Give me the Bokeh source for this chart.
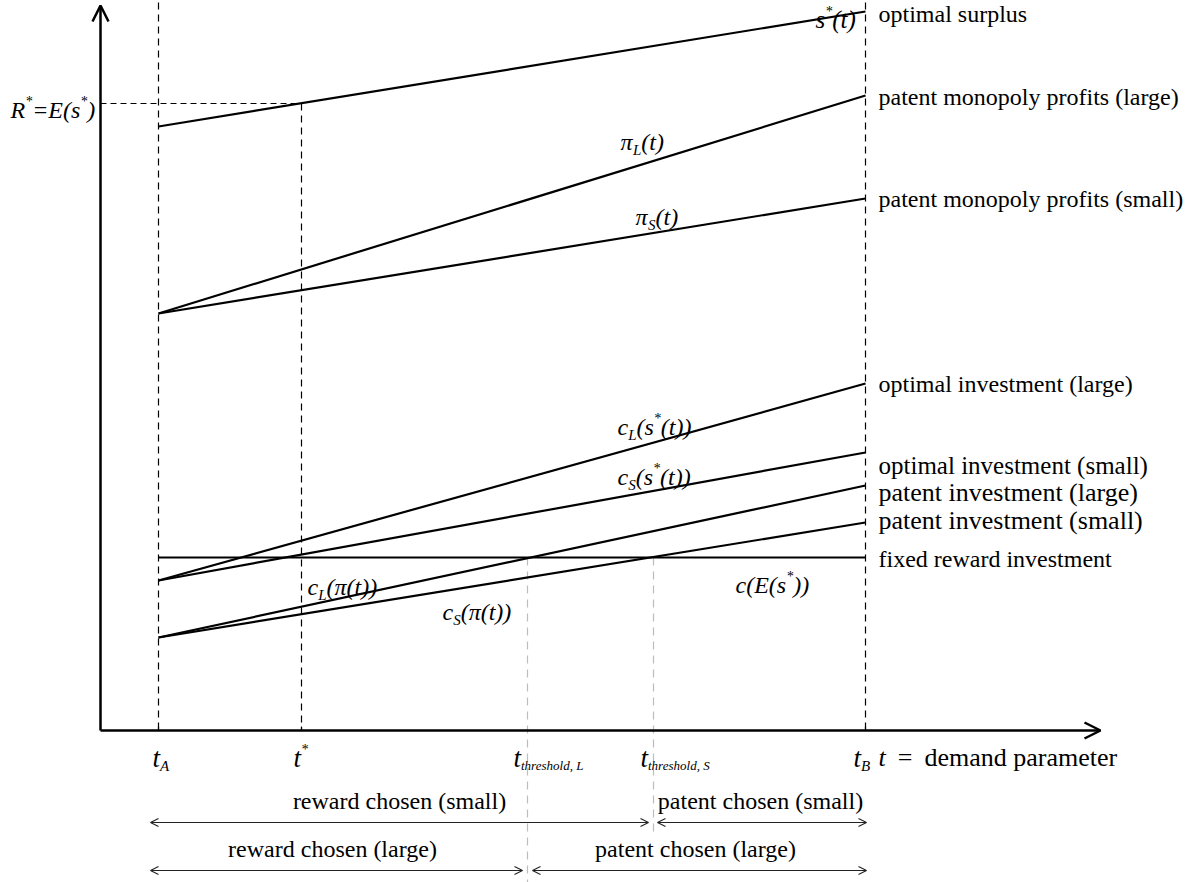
from bokeh.plotting import figure
from bokeh.models import Range1d, Arrow, OpenHead, ColumnDataSource
from bokeh.core.properties import value, field
from bokeh.embed import file_html
from bokeh.resources import INLINE

# ---------------- data ----------------
# demand-parameter positions on the horizontal axis
t_names = ["t_A", "t_star", "t_threshold_L", "t_threshold_S", "t_B"]
t_values = [0.58, 2.01, 4.27, 5.53, 7.65]

# the eight straight schedules, value at t_A and at t_B
curve_keys = ["s_star", "pi_L", "pi_S", "cL_s", "cS_s", "cL_pi", "cS_pi", "c_fixed"]
value_at_tA = [6.04, 4.17, 4.17, 1.50, 1.50, 0.93, 0.93, 1.73]
value_at_tB = [7.19, 6.35, 5.32, 3.47, 2.78, 2.45, 2.08, 1.73]
right_labels = ["optimal surplus", "patent monopoly profits (large)",
                "patent monopoly profits (small)", "optimal investment (large)",
                "optimal investment (small)", "patent investment (large)",
                "patent investment (small)", "fixed reward investment"]
R_star = 6.27

region_labels = ["reward chosen (small)", "patent chosen (small)",
                 "reward chosen (large)", "patent chosen (large)"]

# ---------------- layout (positions / styles only) ----------------
right_label_y = [7.17, 6.34, 5.32, 3.47, 2.65, 2.38, 2.10, 1.72]
right_label_size = ["24px", "24px", "24px", "24px", "25px", "26px", "26px", "24px"]
T_A, T_STAR, T_THL, T_THS, T_B = t_values

FONT = "Liberation Serif"
BASE = 24

p = figure(width=1188, height=882, x_range=Range1d(-1.00, 10.88),
           y_range=Range1d(-1.52, 7.30), x_axis_type=None, y_axis_type=None,
           output_backend="svg", toolbar_location=None, min_border=0)
p.grid.visible = False
p.outline_line_color = None
p.background_fill_color = "white"

# dashed guide lines
p.segment(x0=[T_A, T_B, T_STAR], y0=[7.4, 7.4, R_star], x1=[T_A, T_B, T_STAR],
          y1=[0, 0, 0], line_color="black", line_width=1.2, line_dash="7 5")
p.segment(x0=[0], y0=[R_star], x1=[T_STAR], y1=[R_star], line_color="black",
          line_width=1.2, line_dash="6 4")
fixed = value_at_tA[curve_keys.index("c_fixed")]
p.segment(x0=[T_THL, T_THS], y0=[fixed, fixed], x1=[T_THL, T_THS], y1=[-1.6, -1.02],
          line_color="#bdbdbd", line_width=1.2, line_dash="8 6")

# schedules
src = ColumnDataSource(dict(x0=[T_A] * len(curve_keys), x1=[T_B] * len(curve_keys),
                            y0=value_at_tA, y1=value_at_tB))
p.segment(x0="x0", y0="y0", x1="x1", y1="y1", source=src, line_color="black",
          line_width=2.2)

# small ticks
p.segment(x0=[T_A, T_STAR, T_B], x1=[T_A, T_STAR, T_B], y0=[0] * 3, y1=[0.04] * 3,
          line_color="black", line_width=1.2)

# axes with arrows
p.add_layout(Arrow(end=OpenHead(size=16, line_width=2.5, line_color="black"),
                   x_start=0, y_start=0, x_end=0, y_end=7.25,
                   line_width=2.5, line_color="black"))
p.add_layout(Arrow(end=OpenHead(size=16, line_width=2.5, line_color="black"),
                   x_start=0, y_start=0, x_end=10.0, y_end=0,
                   line_width=2.5, line_color="black"))

# region arrows
def dbl(x0, x1, y):
    p.add_layout(Arrow(start=OpenHead(size=8, line_width=1.1, line_color="#222"),
                       end=OpenHead(size=8, line_width=1.1, line_color="#222"),
                       x_start=x0, y_start=y, x_end=x1, y_end=y,
                       line_width=1.1, line_color="#222"))

dbl(T_A - 0.08, T_THS - 0.05, -0.92)
dbl(T_THS + 0.04, T_B + 0.01, -0.92)
dbl(T_A - 0.08, T_THL - 0.05, -1.40)
dbl(T_THL + 0.05, T_B + 0.01, -1.40)

# right labels
p.text(x="x", y="y", text="text", text_font_size=field("size"),
       source=ColumnDataSource(dict(x=[T_B + 0.13] * len(right_labels), y=right_label_y,
                                    text=right_labels, size=right_label_size)),
       text_font=value(FONT), text_baseline="middle", text_align="left",
       text_color="black")

# region labels
p.text(x=[2.99, 6.60, 2.32, 5.95], y=[-0.70, -0.70, -1.18, -1.18], text=region_labels,
       text_font=value(FONT), text_font_size=f"{BASE}px", text_baseline="middle",
       text_align="center", text_color="black")

# ---------------- rich (sub/superscript) labels ----------------
W_IT = {" ": .25, "(": .333, ")": .333, "*": .5, ",": .25, "=": .675,
        "A": .611, "B": .611, "E": .611, "L": .556, "R": .611, "S": .5,
        "a": .5, "c": .444, "d": .5, "e": .444, "h": .5, "l": .278, "o": .5,
        "r": .389, "s": .389, "t": .278, "π": .52}
W_RM = {" ": .25, "\u00a0": .25, "=": .564, "a": .444, "d": .5, "e": .444,
        "m": .778, "n": .5, "p": .5, "r": .333, "t": .278}

rows_it = dict(x=[], y=[], text=[], xo=[], yo=[], size=[])
rows_rm = dict(x=[], y=[], text=[], xo=[], yo=[], size=[])


def rich(x, y, parts, dx=0.0, sub_size=15, base=BASE):
    cur = dx
    for txt, role in parts:
        if role == "n":
            size, yo, tab, rows = base, 0, W_IT, rows_it
        elif role == "sub":
            size, yo, tab, rows = sub_size, 8, W_IT, rows_it
        elif role == "sup":
            size, yo, tab, rows = 14, -8, W_IT, rows_it
        elif role == "gap":
            cur += float(txt)
            continue
        else:
            size, yo, tab, rows = base, 0, W_RM, rows_rm
        rows["x"].append(x)
        rows["y"].append(y)
        rows["text"].append(txt)
        rows["xo"].append(cur)
        rows["yo"].append(yo)
        rows["size"].append(f"{size}px")
        cur += sum(tab.get(ch, .5) for ch in txt) * size


rich(7.15, 7.11, [("s", "n"), ("*", "sup"), ("(t)", "n")], base=25)
rich(5.20, 5.89, [("π", "n"), ("L", "sub"), ("(t)", "n")])
rich(5.35, 5.14, [("π", "n"), ("S", "sub"), ("(t)", "n")])
rich(5.17, 3.04, [("c", "n"), ("L", "sub"), ("(s", "n"), ("*", "sup"), ("(t))", "n")])
rich(5.17, 2.54, [("c", "n"), ("S", "sub"), ("(s", "n"), ("*", "sup"), ("(t))", "n")])
rich(2.07, 1.44, [("c", "n"), ("L", "sub"), ("(π(t))", "n")])
rich(3.42, 1.19, [("c", "n"), ("S", "sub"), ("(π(t))", "n")])
rich(6.35, 1.46, [("c(E(s", "n"), ("*", "sup"), ("))", "n")])
rich(-0.90, R_star - 0.06, [("R", "n"), ("*", "sup"), ("=E(s", "n"), ("*", "sup"), (")", "n")])

TICK_Y = -0.27
rich(T_A, TICK_Y, [("t", "n"), ("A", "sub")], dx=-6, base=27)
rich(T_STAR, TICK_Y, [("t", "n"), ("*", "sup")], dx=-8, base=27)
rich(T_THL, TICK_Y, [("t", "n"), ("threshold, L", "sub")], dx=-14, sub_size=13, base=27)
rich(T_THS, TICK_Y, [("t", "n"), ("threshold, S", "sub")], dx=-13, sub_size=13, base=27)
rich(T_B, TICK_Y, [("t", "n"), ("B", "sub")], dx=-12, base=27)
rich(T_B + 0.13, TICK_Y, [("t", "n"), ("12", "gap"), ("=", "r"), ("12", "gap"),
                          ("demand parameter", "r")], base=26)

p.text(x="x", y="y", text="text", x_offset="xo", y_offset="yo",
       text_font_size=field("size"), source=ColumnDataSource(rows_it),
       text_font=value(FONT), text_font_style="italic", text_baseline="alphabetic",
       text_align="left", text_color="black")
p.text(x="x", y="y", text="text", x_offset="xo", y_offset="yo",
       text_font_size=field("size"), source=ColumnDataSource(rows_rm),
       text_font=value(FONT), text_font_style="normal", text_baseline="alphabetic",
       text_align="left", text_color="black")

open("out.html", "w").write(file_html(p, INLINE))
